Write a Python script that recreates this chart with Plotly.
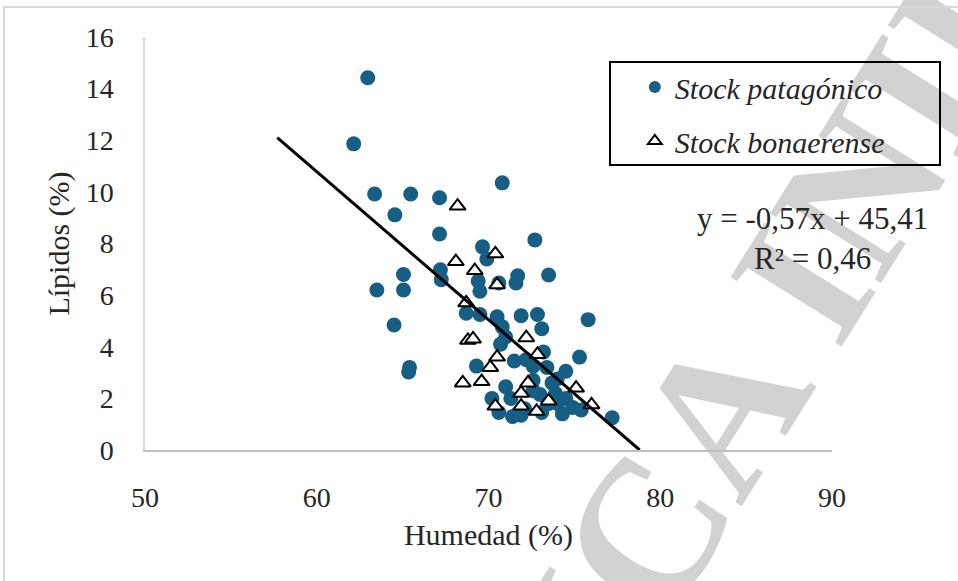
import plotly.graph_objects as go

# Stock patagónico (Humedad %, Lípidos %)
pat_humedad = [62.97, 62.15, 63.37, 65.47, 64.55, 67.15, 70.8, 67.15, 72.7, 73.5,
               71.7, 71.6, 63.5, 65.05, 65.05, 64.5, 65.4, 65.35, 69.65, 69.9,
               67.2, 67.25, 69.4, 69.5, 70.6, 68.7, 69.5, 70.5, 71.9, 72.85,
               73.1, 75.8, 70.8, 71.0, 70.7, 75.3, 71.5, 69.3, 72.6, 73.4,
               74.5, 74.0, 71.0, 72.6, 73.7, 73.9, 74.5, 74.9, 75.4, 71.4,
               70.6, 73.1, 74.3, 77.2, 73.0, 73.5, 72.1, 74.0, 72.2, 73.2,
               71.3, 72.6, 70.2, 71.9]
pat_lipidos = [14.42, 11.86, 9.92, 9.92, 9.11, 9.77, 10.35, 8.37, 8.14, 6.78,
               6.75, 6.47, 6.2, 6.8, 6.2, 4.84, 3.2, 3.02, 7.87, 7.4,
               6.98, 6.6, 6.55, 6.15, 6.47, 5.3, 5.25, 5.16, 5.2, 5.25,
               4.7, 5.05, 4.77, 4.38, 4.1, 3.6, 3.45, 3.25, 3.25, 3.2,
               3.05, 2.75, 2.45, 2.7, 2.6, 2.2, 2.0, 1.65, 1.55, 1.3,
               1.45, 1.45, 1.4, 1.25, 2.15, 1.8, 1.6, 1.8, 3.5, 3.8,
               2.0, 2.3, 2.0, 1.35]

# Stock bonaerense
bon_humedad = [68.2, 68.1, 70.4, 69.2, 70.5, 68.7, 68.8, 69.1, 72.2, 72.85, 70.5,
               70.1, 69.6, 68.5, 72.3, 71.9, 73.5, 75.1, 71.9, 72.8, 70.4, 76.0]
bon_lipidos = [9.45, 7.3, 7.6, 6.95, 6.4, 5.7, 4.25, 4.3, 4.35, 3.7, 3.6,
               3.2, 2.65, 2.6, 2.6, 2.2, 1.9, 2.4, 1.7, 1.5, 1.7, 1.75]

# Línea de tendencia (extremos)
trend_x = [57.7, 78.8]
trend_y = [12.1, 0.0]

x_ticks = [50, 60, 70, 80, 90]
y_ticks = [0, 2, 4, 6, 8, 10, 12, 14, 16]

SERIF = "Liberation Serif, Times New Roman, serif"
BLUE = "#165e83"
TXT = "#262626"

fig = go.Figure()
fig.add_trace(go.Scatter(
    x=pat_humedad, y=pat_lipidos, mode="markers", name="<i>Stock patagónico</i>",
    legendgroup="a",
    marker=dict(symbol="circle", size=15, color=BLUE, line=dict(width=0)),
))
fig.add_trace(go.Scatter(
    x=bon_humedad, y=bon_lipidos, mode="markers", name="<i>Stock bonaerense</i>",
    legendgroup="b",
    marker=dict(symbol="triangle-up", size=14, color="white",
                line=dict(color="black", width=2)),
))
fig.add_trace(go.Scatter(
    x=trend_x, y=trend_y, mode="lines", showlegend=False,
    line=dict(color="black", width=3), hoverinfo="skip",
))

def px_x(p):
    return (p - 145) / 687

def px_y(p):
    return (450 - p) / 413

fig.update_layout(
    width=958, height=581,
    margin=dict(l=145, r=126, t=37, b=131),
    plot_bgcolor="white", paper_bgcolor="white",
    font=dict(family=SERIF, color=TXT, size=28),
    showlegend=True,
    legend=dict(
        x=0.713, y=0.942, xanchor="left", yanchor="top",
        bgcolor="rgba(0,0,0,0)", borderwidth=0,
        font=dict(family=SERIF, size=30, color=TXT),
        tracegroupgap=12, traceorder="grouped",
        itemsizing="constant",
    ),
    xaxis=dict(
        range=[50, 90], tickvals=x_ticks, ticktext=[str(v) for v in x_ticks],
        showgrid=False, zeroline=False, showline=True, linecolor="#bfbfbf", linewidth=1.5,
        ticks="", tickfont=dict(size=28, family=SERIF, color=TXT),
        ticklabelstandoff=22,
        title=dict(text="Humedad (%)", font=dict(size=30, family=SERIF, color=TXT), standoff=12),
    ),
    yaxis=dict(
        range=[0, 16], tickvals=y_ticks, ticktext=[str(v) for v in y_ticks],
        showgrid=False, zeroline=False, showline=True, linecolor="#d9d9d9", linewidth=1.5,
        ticks="", tickfont=dict(size=28, family=SERIF, color=TXT),
        ticklabelstandoff=24,
        title=dict(text="Lípidos (%)", font=dict(size=30, family=SERIF, color=TXT), standoff=7),
    ),
    shapes=[
        # watermark, drawn beneath the data
        dict(type="rect", xref="paper", yref="paper", layer="below",
             x0=px_x(820), x1=px_x(860), y0=px_y(200), y1=px_y(160),
             line=dict(width=0), fillcolor="rgba(0,0,0,0)",
             label=dict(text="<b>ICA INIDEP</b>", textangle=-58, textposition="middle center",
                        font=dict(family=SERIF, size=200, color="#d2d2d2"))),
        dict(type="rect", xref="paper", yref="paper",
             x0=px_x(610), x1=px_x(940), y0=px_y(165), y1=px_y(62),
             line=dict(color="black", width=2), fillcolor="rgba(0,0,0,0)"),
        dict(type="rect", xref="paper", yref="paper",
             x0=px_x(4), x1=px_x(975), y0=px_y(600), y1=px_y(7),
             line=dict(color="#d9d9d9", width=2), fillcolor="rgba(0,0,0,0)"),
    ],
    annotations=[
        dict(xref="paper", yref="paper", x=px_x(812), y=px_y(238),
             xanchor="center", yanchor="middle", showarrow=False, align="center",
             text="y = -0,57x + 45,41<br>R² = 0,46",
             font=dict(family=SERIF, size=31, color=TXT)),
    ],
)

fig.write_html("out.html", config={"displayModeBar": False},
               post_script="document.body.style.margin='0px';")
